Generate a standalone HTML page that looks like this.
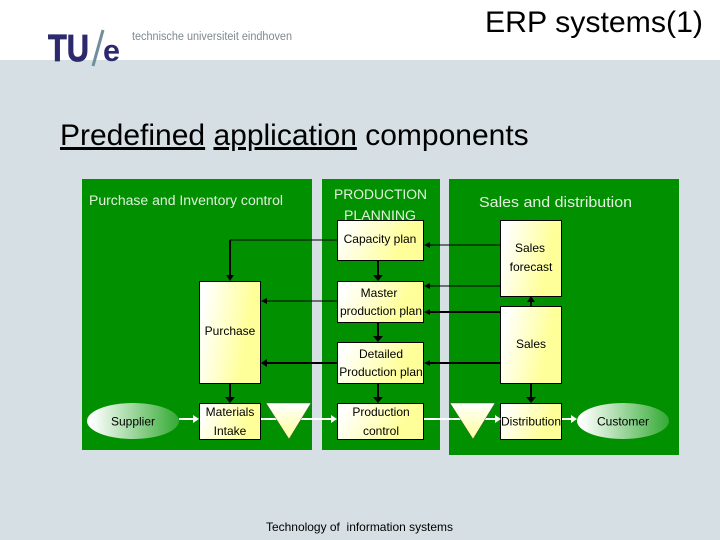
<!DOCTYPE html>
<html><head><meta charset="utf-8"><style>
html,body{margin:0;padding:0;background:#fff}
svg{display:block}
text{font-family:"Liberation Sans",sans-serif}
.w{fill:#e2f2dd;font-size:13.5px}
.b{fill:#000;font-size:12px;text-anchor:middle}
.box{stroke:#000;stroke-width:1}
.k{stroke:#000;stroke-width:1;fill:none}
.t{stroke:#000;stroke-width:2;fill:none}
.wl{stroke:#fff;stroke-width:2;fill:none}
</style></head><body>
<svg width="720" height="540" viewBox="0 0 720 540" xmlns="http://www.w3.org/2000/svg">
<defs>
<linearGradient id="y" x1="0" y1="0" x2="1" y2="0.25"><stop offset="0.1" stop-color="#fff"/><stop offset="0.85" stop-color="#ffff99"/></linearGradient>
<linearGradient id="g" x1="0" y1="0" x2="1" y2="0"><stop offset="0.05" stop-color="#fff"/><stop offset="1" stop-color="#33aa33"/></linearGradient>
<linearGradient id="v" x1="0" y1="0" x2="0" y2="1"><stop offset="0" stop-color="#fff"/><stop offset="1" stop-color="#ffff99"/></linearGradient>
</defs>
<rect x="0" y="0" width="720" height="60" fill="#fff"/>
<rect x="0" y="60" width="720" height="480" fill="#d5dfe4"/>

<text x="48" y="61" style="font-size:38px;font-weight:bold" fill="#2c2a6c" stroke="#2c2a6c" stroke-width="0.800" textLength="41" lengthAdjust="spacingAndGlyphs">TU</text>
<line x1="103" y1="30" x2="93" y2="66" stroke="#6f8f9c" stroke-width="3"/>
<text x="103" y="61" style="font-size:31px;font-weight:bold" fill="#2c2a6c" textLength="17" lengthAdjust="spacingAndGlyphs">e</text>
<text x="132" y="40" style="font-size:11.500px" fill="#7c8a90" textLength="160" lengthAdjust="spacingAndGlyphs">technische universiteit eindhoven</text>

<text x="485" y="32" style="font-size:30px" fill="#000" textLength="218" lengthAdjust="spacingAndGlyphs">ERP systems(1)</text>
<text x="60" y="145" style="font-size:30px" fill="#000"><tspan text-decoration="underline">Predefined</tspan> <tspan text-decoration="underline">application</tspan> components</text>

<rect x="82" y="179" width="230" height="271" fill="#009000"/>
<rect x="322" y="179" width="118" height="271" fill="#009000"/>
<rect x="449" y="179" width="230" height="276" fill="#009000"/>

<text class="w" x="89" y="205" textLength="194" lengthAdjust="spacingAndGlyphs">Purchase and Inventory control</text>
<text class="w" x="334" y="199" textLength="93" lengthAdjust="spacingAndGlyphs">PRODUCTION</text>
<text class="w" x="344" y="220" textLength="72" lengthAdjust="spacingAndGlyphs">PLANNING</text>
<text class="w" x="479" y="207" style="font-size:15px" textLength="153" lengthAdjust="spacingAndGlyphs">Sales and distribution</text>

<!-- connectors -->
<path class="k" d="M337 240H230"/><path class="t" d="M230 240V275"/><path d="M226 275H234L230 281Z"/>
<path class="k" d="M337 301H265"/><path d="M267 298V304L261 301Z"/>
<path class="t" d="M337 363H265"/><path d="M267 359V367L261 363Z"/>
<path class="t" d="M230 384V397"/><path d="M225 397H235L230 403Z"/>
<path class="t" d="M378 260V275"/><path d="M373 275H383L378 281Z"/>
<path class="t" d="M378 322V336"/><path d="M373 336H383L378 342Z"/>
<path class="t" d="M378 383V397"/><path d="M373 397H383L378 403Z"/>
<path class="k" d="M500 245H428"/><path d="M430 242V248L424 245Z"/>
<path class="k" d="M500 286H428"/><path d="M430 283V289L424 286Z"/>
<path class="t" d="M500 312H428"/><path d="M430 309V315L424 312Z"/>
<path class="t" d="M500 363H428"/><path d="M430 360V366L424 363Z"/>
<path class="t" d="M531 306V301"/><path d="M527 302H535L531 296Z"/>
<path class="t" d="M531 384V397"/><path d="M526 397H536L531 403Z"/>

<!-- white flows -->
<path class="wl" d="M179 419H195"/><path d="M193 415V423L199 419Z" fill="#fff"/>
<path class="wl" d="M260 419H332"/><path d="M331 415V423L337 419Z" fill="#fff"/>
<path class="wl" d="M424 419H498"/><path class="wl" d="M561 419H573"/><path d="M571 415V423L577 419Z" fill="#fff"/>

<!-- boxes -->
<rect class="box" x="199.500" y="281.500" width="61" height="102" fill="url(#y)"/>
<rect class="box" x="199.500" y="403.500" width="61" height="36" fill="url(#y)"/>
<rect class="box" x="337.500" y="220.500" width="86" height="40" fill="url(#y)"/>
<rect class="box" x="337.500" y="281.500" width="86" height="41" fill="url(#y)"/>
<rect class="box" x="337.500" y="342.500" width="86" height="41" fill="url(#y)"/>
<rect class="box" x="337.500" y="403.500" width="86" height="36" fill="url(#y)"/>
<rect class="box" x="500.500" y="220.500" width="61" height="76" fill="url(#y)"/>
<rect class="box" x="500.500" y="306.500" width="61" height="77" fill="url(#y)"/>
<rect class="box" x="500.500" y="403.500" width="61" height="36" fill="url(#y)"/>
<ellipse cx="133" cy="421" rx="46" ry="18" fill="url(#g)"/>
<ellipse cx="623" cy="421" rx="46" ry="18" fill="url(#g)"/>
<path d="M266 403H311L289 439Z" fill="url(#v)" stroke="#555" stroke-width="0.500"/>
<path d="M450 403H495L473 439Z" fill="url(#v)" stroke="#555" stroke-width="0.500"/>
<path class="wl" d="M495 419H499"/>
<path d="M495 415V423L501 419Z" fill="#fff"/>

<!-- labels -->
<text class="b" x="230" y="335">Purchase</text>
<text class="b" x="230" y="416">Materials</text>
<text class="b" x="230" y="435">Intake</text>
<text class="b" x="380" y="243">Capacity plan</text>
<text class="b" x="379" y="297">Master</text>
<text class="b" x="381" y="315">production plan</text>
<text class="b" x="381" y="358">Detailed</text>
<text class="b" x="381" y="376">Production plan</text>
<text class="b" x="381" y="416">Production</text>
<text class="b" x="381" y="435">control</text>
<text class="b" x="530" y="252">Sales</text>
<text class="b" x="531" y="271">forecast</text>
<text class="b" x="531" y="348">Sales</text>
<text class="b" x="531" y="425.500" textLength="60" lengthAdjust="spacingAndGlyphs">Distribution</text>
<text class="b" x="133" y="425.500">Supplier</text>
<text class="b" x="623" y="425.500">Customer</text>

<text x="266" y="531" style="font-size:12px" fill="#000" textLength="187" lengthAdjust="spacingAndGlyphs" xml:space="preserve">Technology of  information systems</text>
</svg>
</body></html>
